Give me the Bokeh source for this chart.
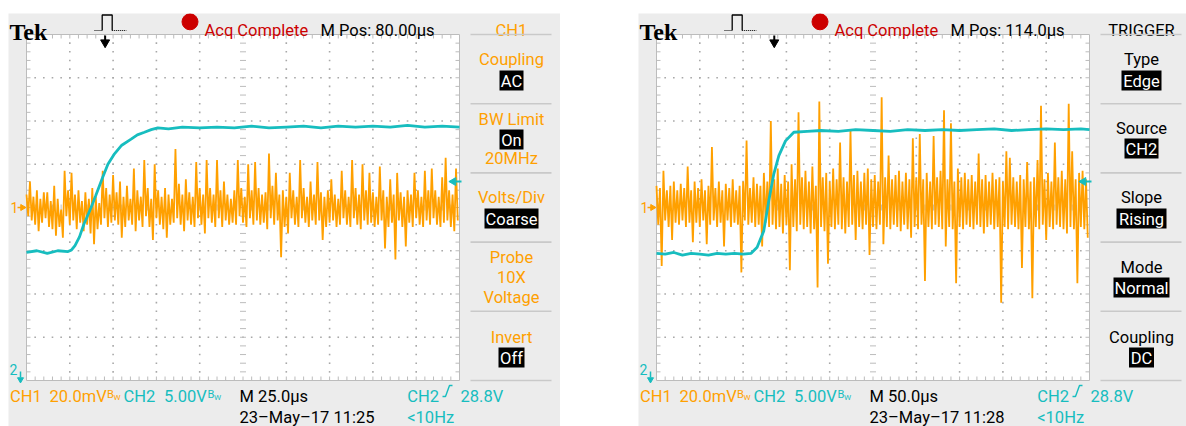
import numpy as np
from bokeh.plotting import figure
from bokeh.models import Range1d, Spacer
from bokeh.layouts import row, column
from bokeh.core.properties import value
from bokeh.embed import file_html
from bokeh.resources import INLINE

CH1_MV_DIV = 20.0        # CH1 20.0 mV/div
CH2_V_DIV = 5.0          # CH2 5.00 V/div
CH2_CENTER_V = 25.8      # CH2 value at screen centre (ground marker is off-screen)
TRIG_LEVEL_V = 28.8      # CH2 rising-edge trigger level

# left capture: 25 us/div
L_tdiv = 25.0
L_ch1_t = list(range(0, 250, 2))   # us, one column every 2 us
L_ch1_hi = [6, 12, 5, 8, 4, 7, 7, 3, 10, 4,
            -1, 17, 8, 16, 6, 8, 3, 7, 4, 9,
            5, 2, 17, 9, 6, 15, 7, 12, 5, 10,
            4, 18, 8, 5, 22, 9, 4, 20, 8, 5,
            9, 6, 4, 27, 11, 6, 13, 7, 5, 21,
            9, 6, 22, 9, 6, 22, 8, 12, 6, 4,
            8, 22, 9, 5, 20, 8, 21, 9, 6, 7,
            25, 10, 16, 6, 8, 5, 16, 8, 5, 22,
            9, 5, 12, 6, 21, 7, 5, 8, 13, 6,
            4, 17, 8, 5, 22, 9, 6, 20, 8, 16,
            7, 5, 19, 8, 5, 13, 6, 16, 7, 5,
            8, 6, 16, 8, 5, 17, 8, 18, 8, 5,
            14, 23, 8, 6, 18]
L_ch1_lo = [-4, -6, -8, -11, -7, -5, -9, -10, -13, -9,
            -14, -4, -8, -6, -10, -7, -11, -8, -12, -17,
            -10, -8, -5, -9, -7, -6, -8, -14, -9, -6,
            -8, -11, -6, -9, -4, -9, -15, -5, -8, -10,
            -14, -8, -7, -5, -8, -11, -6, -8, -9, -5,
            -8, -12, -5, -7, -9, -5, -9, -6, -8, -7,
            -8, -4, -7, -9, -5, -8, -6, -8, -7, -10,
            -5, -8, -6, -23, -9, -12, -5, -8, -9, -5,
            -7, -9, -6, -8, -6, -15, -9, -7, -6, -9,
            -8, -5, -8, -9, -5, -8, -10, -6, -8, -7,
            -9, -8, -6, -19, -9, -7, -24, -6, -9, -18,
            -7, -9, -5, -8, -9, -6, -8, -5, -8, -9,
            -7, -6, -9, -11, -6]
L_ch2_t = [0, 6, 12, 18, 24, 26, 28, 30.6, 33, 37.3, 40, 44, 47, 50.8, 55, 60.4,
           64, 68.1, 72, 75.8, 82, 90, 100, 110, 120, 130, 140, 150, 160, 170,
           180, 190, 200, 210, 220, 230, 240, 250]
L_ch2_v = [20.6, 20.8, 20.5, 20.8, 20.7, 20.9, 21.4, 22.4, 23.8, 25.8, 27.2, 29.3,
           30.8, 32.0, 33.0, 33.7, 34.2, 34.5, 34.8, 35.0, 34.9, 35.1, 35.0, 35.1,
           35.0, 35.2, 35.0, 35.1, 35.2, 35.0, 35.2, 35.1, 35.2, 35.1, 35.3, 35.1,
           35.2, 35.1]
L_trig_t = 45.4

# right capture: 50 us/div
R_tdiv = 50.0
R_ch1_t = list(range(0, 500, 4))   # us, one column every 4 us
R_ch1_hi = [10, 9, 17, 8, 10, 12, 8, 11, 9, 19,
            8, 12, 9, 13, 8, 10, 28, 9, 12, 8,
            11, 9, 13, 8, 10, 12, 31, 9, 14, 11,
            10, 16, 12, 40, 13, 18, 11, 15, 12, 20,
            13, 44, 14, 17, 12, 19, 10, 49, 14, 16,
            12, 18, 13, 30, 14, 12, 36, 15, 17, 12,
            16, 18, 13, 15, 12, 51, 14, 24, 13, 15,
            17, 12, 16, 13, 32, 14, 34, 13, 16, 12,
            33, 14, 17, 45, 13, 39, 12, 18, 14, 16,
            13, 15, 12, 25, 13, 15, 12, 16, 13, 14,
            12, 26, 23, 14, 12, 15, 13, 21, 12, 14,
            22, 47, 13, 16, 12, 30, 14, 17, 13, 48,
            26, 13, 16, 17, 13]
R_ch1_lo = [-8, -27, -6, -9, -15, -7, -8, -6, -9, -7,
            -16, -7, -9, -6, -17, -8, -6, -9, -7, -18,
            -6, -9, -7, -8, -30, -6, -8, -7, -9, -8,
            -18, -7, -9, -8, -10, -9, -12, -8, -29, -9,
            -11, -8, -10, -9, -12, -10, -37, -9, -11, -26,
            -9, -10, -8, -10, -12, -9, -8, -15, -9, -10,
            -8, -22, -9, -10, -8, -17, -9, -10, -8, -9,
            -11, -8, -10, -14, -9, -10, -8, -34, -9, -10,
            -8, -9, -10, -18, -9, -10, -35, -9, -10, -8,
            -9, -10, -8, -9, -12, -9, -8, -10, -9, -44,
            -9, -10, -8, -9, -10, -28, -9, -10, -42, -9,
            -10, -8, -15, -9, -10, -8, -9, -10, -12, -9,
            -10, -35, -9, -10, -14]
R_ch2_t = [0, 10, 20, 30, 40, 50, 60, 70, 80, 90, 100, 109.3, 116.2, 123.9, 129.7,
           135.5, 141.3, 149.0, 158.6, 174, 190, 210, 230, 250, 270, 290, 310, 330,
           350, 370, 390, 410, 430, 450, 470, 490, 500]
R_ch2_v = [20.5, 20.4, 20.6, 20.3, 20.5, 20.4, 20.3, 20.5, 20.4, 20.5, 20.4, 20.5,
           21.2, 23.1, 26.6, 29.7, 31.8, 33.5, 34.5, 34.6, 34.7, 34.6, 34.8, 34.7,
           34.6, 34.8, 34.7, 34.8, 34.7, 34.8, 34.9, 34.7, 34.8, 34.9, 34.8, 34.9, 34.8]
R_trig_t = 136.0

# ---------------- style / layout ----------------
ORANGE = "#ffa000"
CYAN = "#17bdbf"
RED = "#cc0000"
BG = "#ececec"
GRID = "#bcbcbc"
SEP = "#c9c9c9"
FONT = "Roboto"
FS = 16.5

H = 413
GX0, GX1, GY0, GY1 = 18.0, 451.0, 21.0, 367.0
DX = (GX1 - GX0) / 10.0
DY = (GY1 - GY0) / 8.0
GYC = (GY0 + GY1) / 2.0
MENU_X = 503.0


def add_text(p, x, y, s, color, size=FS, align="left", baseline="alphabetic",
             font=FONT, style="normal", **kw):
    p.text(x=[x], y=[y], text=[s], text_color=color, text_font=value(font),
           text_font_size=f"{size}px", text_align=align, text_baseline=baseline,
           text_font_style=style, **kw)


def make_panel(W, tdiv, ch1_t, ch1_hi, ch1_lo, ch1_step, ch2_t, ch2_v, trig_t,
               mpos_text, mdiv_text, date_text, header, header_color, menu, label_color):
    p = figure(width=W, height=H, x_range=Range1d(0, W), y_range=Range1d(H, 0),
               min_border=0, toolbar_location=None, output_backend="svg",
               x_axis_location=None, y_axis_location=None,
               background_fill_color=BG, border_fill_color=BG, outline_line_color=None)
    p.grid.visible = False

    T = tdiv * 10.0
    t_per_px = T / (GX1 - GX0)
    mv_per_px = CH1_MV_DIV / DY
    v_per_px = CH2_V_DIV / DY
    p.extra_x_ranges = {"t": Range1d(-GX0 * t_per_px, (W - GX0) * t_per_px)}
    p.extra_y_ranges = {
        "ch1": Range1d((GYC - H) * mv_per_px, GYC * mv_per_px),
        "ch2": Range1d(CH2_CENTER_V + (GYC - H) * v_per_px, CH2_CENTER_V + GYC * v_per_px),
    }

    # graticule
    p.quad(left=[GX0], right=[GX1], top=[GY0], bottom=[GY1], fill_color="white",
           line_color=GRID, line_width=1)
    xs_minor = GX0 + np.arange(1, 50) * DX / 5
    ys_minor = GY0 + np.arange(1, 40) * DY / 5
    dx, dy = [], []
    for i in range(1, 10):
        if i == 5:
            continue
        dx += [GX0 + i * DX] * len(ys_minor)
        dy += list(ys_minor)
    for j in range(1, 8):
        if j == 4:
            continue
        dx += list(xs_minor)
        dy += [GY0 + j * DY] * len(xs_minor)
    p.scatter(dx, dy, marker="square", size=1.6, fill_color="#a8a8a8", line_color=None)
    xc = GX0 + 5 * DX
    seg_x0, seg_y0, seg_x1, seg_y1 = [], [], [], []
    for x in xs_minor:
        seg_x0 += [x, x, x]; seg_x1 += [x, x, x]
        seg_y0 += [GY0, GY1, GYC - 3]; seg_y1 += [GY0 + 4, GY1 - 4, GYC + 3]
    for y in ys_minor:
        seg_y0 += [y, y, y]; seg_y1 += [y, y, y]
        seg_x0 += [GX0, GX1, xc - 3]; seg_x1 += [GX0 + 4, GX1 - 4, xc + 3]
    p.segment(seg_x0, seg_y0, seg_x1, seg_y1, line_color=GRID, line_width=1)

    # CH1 trace (peak-detect style columns)
    t = np.asarray(ch1_t, dtype=float)
    xs = np.ravel(np.column_stack([t, t + ch1_step / 2]))
    ys = np.ravel(np.column_stack([ch1_hi, ch1_lo]))
    p.line(xs, ys, x_range_name="t", y_range_name="ch1", line_color=ORANGE, line_width=1.8)
    # CH2 trace
    p.line(ch2_t, ch2_v, x_range_name="t", y_range_name="ch2", line_color=CYAN, line_width=2.8)

    # trigger position arrow (top)
    p.segment([trig_t], [GY0 + 1], [trig_t], [GY0 + 7], x_range_name="t",
              line_color="black", line_width=2)
    p.scatter([trig_t], [GY0 + 8], x_range_name="t", marker="inverted_triangle",
              size=9, fill_color="black", line_color="black")
    # trigger level arrow (right edge)
    p.segment([GX1 - 7], [TRIG_LEVEL_V], [GX1 + 2], [TRIG_LEVEL_V], y_range_name="ch2",
              line_color=CYAN, line_width=2)
    p.scatter([GX1 - 6], [TRIG_LEVEL_V], y_range_name="ch2", marker="triangle",
              angle=np.pi / 2, size=8, fill_color=CYAN, line_color=CYAN)
    # CH1 ground marker
    add_text(p, 2, 0, "1", ORANGE, size=14, baseline="middle", y_range_name="ch1")
    p.segment([9], [0], [13], [0], y_range_name="ch1", line_color=ORANGE, line_width=1.5)
    p.scatter([14], [0], y_range_name="ch1", marker="triangle", angle=-np.pi / 2,
              size=6, fill_color=ORANGE, line_color=ORANGE)
    # CH2 ground marker (off-screen below)
    add_text(p, 5, 356, "2", CYAN, size=14, align="center", baseline="middle")
    p.segment([12], [358], [12], [364], line_color=CYAN, line_width=1.5)
    p.scatter([12], [366], marker="inverted_triangle", size=6, fill_color=CYAN,
              line_color=CYAN)

    # top status bar
    add_text(p, 1, 18, "Tek", "black", size=24, font="Liberation Serif", style="bold")
    p.line([86, 93.7], [17, 17], line_color="black", line_width=1.2, line_dash="1 1")
    p.line([93.7, 93.7, 103.7, 103.7], [17, 1.5, 1.5, 17], line_color="black", line_width=1.3)
    p.line([103.7, 118], [17, 17], line_color="black", line_width=1.2, line_dash="1 1")
    p.scatter([181.5], [8.3], size=16, fill_color=RED, line_color=RED)
    add_text(p, 196, 17.4, "Acq Complete", RED)
    add_text(p, 312, 17.4, mpos_text, "black")
    add_text(p, MENU_X, 17.4, header, header_color, align="center")

    # side menu
    for k in range(6):
        ysep = GY0 + k * (GY1 - GY0) / 5.0
        p.line([462, 543], [ysep, ysep], line_color=SEP, line_width=1.6)
    for s, cy, boxw in menu:
        if boxw:
            p.rect([MENU_X], [cy], [boxw], [20], fill_color="black", line_color=None)
            add_text(p, MENU_X, cy + 0.5, s, "white", align="center", baseline="middle")
        else:
            add_text(p, MENU_X, cy, s, label_color, align="center", baseline="middle")

    # bottom readout
    y1, y2 = 383, 404
    add_text(p, 1.6, y1, "CH1", ORANGE)
    add_text(p, 41, y1, "20.0mV", ORANGE)
    add_text(p, 98.5, y1 - 2, "B", ORANGE, size=11)
    add_text(p, 105, y1 + 1, "W", ORANGE, size=8)
    add_text(p, 115, y1, "CH2", CYAN)
    add_text(p, 155.6, y1, "5.00V", CYAN)
    add_text(p, 199, y1 - 2, "B", CYAN, size=11)
    add_text(p, 205.5, y1 + 1, "W", CYAN, size=8)
    add_text(p, 231, y1, mdiv_text, "black")
    add_text(p, 398.7, y1, "CH2", CYAN)
    p.line([434, 437, 441, 444], [y1, y1, y1 - 11, y1 - 11], line_color=CYAN, line_width=1.4)
    add_text(p, 452, y1, f"{TRIG_LEVEL_V:.1f}V", CYAN)
    add_text(p, 231, y2, date_text, "black")
    add_text(p, 398.7, y2, "<10Hz", CYAN)
    return p


# menu entries: (text, centre y in panel px, box width or 0)
MENU_L = [("Coupling", 46, 0), ("AC", 67, 24),
          ("BW Limit", 106, 0), ("On", 126, 24), ("20MHz", 145, 0),
          ("Volts/Div", 184, 0), ("Coarse", 205, 54),
          ("Probe", 244, 0), ("10X", 264, 0), ("Voltage", 284, 0),
          ("Invert", 324, 0), ("Off", 344, 26)]
MENU_R = [("Type", 46, 0), ("Edge", 67, 40),
          ("Source", 115, 0), ("CH2", 135, 34),
          ("Slope", 184, 0), ("Rising", 205, 50),
          ("Mode", 254, 0), ("Normal", 274, 56),
          ("Coupling", 324, 0), ("DC", 344, 25)]

pL = make_panel(552, L_tdiv, L_ch1_t, L_ch1_hi, L_ch1_lo, 2.0, L_ch2_t, L_ch2_v, L_trig_t,
                "M Pos: 80.00\u00b5s", "M 25.0\u00b5s", "23\u2013May\u201317 11:25",
                "CH1", ORANGE, MENU_L, ORANGE)
pR = make_panel(548, R_tdiv, R_ch1_t, R_ch1_hi, R_ch1_lo, 4.0, R_ch2_t, R_ch2_v, R_trig_t,
                "M Pos: 114.0\u00b5s", "M 50.0\u00b5s", "23\u2013May\u201317 11:28",
                "TRIGGER", "black", MENU_R, "black")

layout = column(Spacer(height=13), row(Spacer(width=8), pL, Spacer(width=78), pR))
open("out.html", "w").write(file_html(layout, INLINE))
